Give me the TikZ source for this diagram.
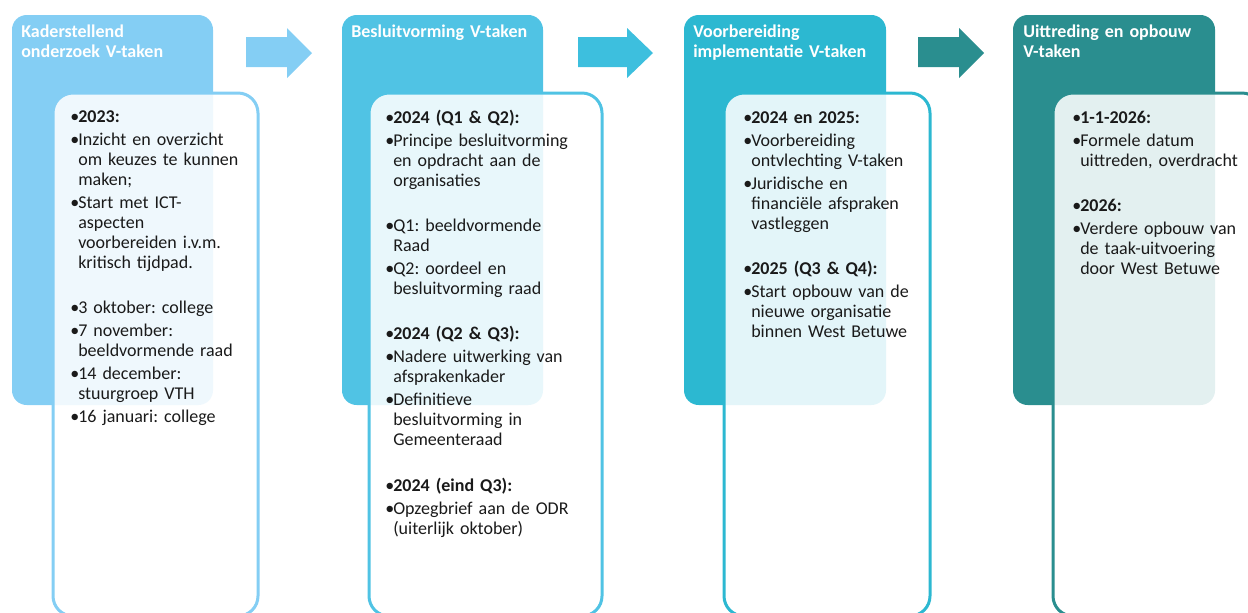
\documentclass[tikz,border=0pt]{standalone}
\usepackage{fontspec}
\setmainfont{Carlito}
\usetikzlibrary{positioning}

\definecolor{kader}{HTML}{84CEF4}
\definecolor{besluit}{HTML}{50C3E4}
\definecolor{pijltwee}{HTML}{3DBFDE}
\definecolor{voorb}{HTML}{2CB8D1}
\definecolor{uittr}{HTML}{2A8E8F}
\definecolor{tekstkleur}{HTML}{1A1A1A}

\frenchspacing
\newcommand{\eerste}{\noindent\makebox[6pt][l]{•}}
\newcommand{\itm}{\par\eerste}
\newcommand{\nl}{\newline\hspace*{6pt}}
\newcommand{\leeg}{\par\vskip16.75pt}

\tikzset{
  paneel/.style={rounded corners=11pt},
  kaart/.style={line width=2.25pt, rounded corners=15pt, fill=white, fill opacity=0.87},
  kop/.style={anchor=base west, inner sep=0pt, text width=170pt, align=left,
    text=white, font=\fontsize{13.5pt}{15pt}\selectfont\bfseries},
  lijst/.style={anchor=base west, inner sep=0pt, text width=170pt, align=left,
    text=tekstkleur, font=\fontsize{13.5pt}{15pt}\selectfont,
    execute at begin node={\setlength{\parskip}{2.25pt}}}
}

\begin{document}
\begin{tikzpicture}[x=0.75pt,y=-0.75pt]
\useasboundingbox (0,0) rectangle (1248,612);
\clip (0,0) rectangle (1248,612);

% achterste panelen
\fill[paneel, kader]   (12,15)   rectangle (213,405);
\fill[paneel, besluit] (342,15)  rectangle (543,405);
\fill[paneel, voorb]   (684,15)  rectangle (886,405);
\fill[paneel, uittr]   (1013,15) rectangle (1215,405);

% pijlen
\fill[kader]    (246,37)--(287,37)--(287,28)--(312,53)--(287,78)--(287,67)--(246,67)--cycle;
\fill[pijltwee] (578,37)--(627,37)--(627,28)--(653,53)--(627,78)--(627,67)--(578,67)--cycle;
\fill[uittr]    (918,37)--(959,37)--(959,28)--(984,53)--(959,78)--(959,67)--(918,67)--cycle;

% voorste kaarten
\draw[kaart, draw=kader]   (53,93)   rectangle (258,616);
\draw[kaart, draw=besluit] (369,93)  rectangle (602,616);
\draw[kaart, draw=voorb]   (724,93)  rectangle (930,616);
\draw[kaart, draw=uittr]   (1053,93) rectangle (1262,616);

% koppen
\node[kop] (kop1) at (21,37)   {Kaderstellend\\onderzoek V-taken};
\node[kop] (kop2) at (351,37)  {Besluitvorming V-taken};
\node[kop] (kop3) at (693,37)  {Voorbereiding\\implementatie V-taken};
\node[kop] (kop4) at (1023,37) {Uittreding en opbouw\\V-taken};

% lijsten
\node[lijst] (lijst1) at (70,122) {%
\eerste\textbf{2023:}
\itm Inzicht en overzicht\nl om keuzes te kunnen\nl maken;
\itm Start met ICT-\nl aspecten\nl voorbereiden i.v.m.\nl kritisch tijdpad.
\leeg
\itm 3 oktober: college
\itm 7 november:\nl beeldvormende raad
\itm 14 december:\nl stuurgroep VTH
\itm 16 januari: college};

\node[lijst] (lijst2) at (385,123) {%
\eerste\textbf{2024 (Q1 \& Q2):}
\itm Principe besluitvorming\nl en opdracht aan de\nl organisaties
\leeg
\itm Q1: beeldvormende\nl Raad
\itm Q2: oordeel en\nl besluitvorming raad
\leeg
\itm\textbf{2024 (Q2 \& Q3):}
\itm Nadere uitwerking van\nl afsprakenkader
\itm Definitieve\nl besluitvorming in\nl Gemeenteraad
\leeg
\itm\textbf{2024 (eind Q3):}
\itm Opzegbrief aan de ODR\nl (uiterlijk oktober)};

\node[lijst] (lijst3) at (743,123) {%
\eerste\textbf{2024 en 2025:}
\itm Voorbereiding\nl ontvlechting V-taken
\itm Juridische en\nl financiële afspraken\nl vastleggen
\leeg
\itm\textbf{2025 (Q3 \& Q4):}
\itm Start opbouw van de\nl nieuwe organisatie\nl binnen West Betuwe};

\node[lijst] (lijst4) at (1072,123) {%
\eerste\textbf{1-1-2026:}
\itm Formele datum\nl uittreden, overdracht
\leeg
\itm\textbf{2026:}
\itm Verdere opbouw van\nl de taak-uitvoering\nl door West Betuwe};

\end{tikzpicture}
\end{document}
